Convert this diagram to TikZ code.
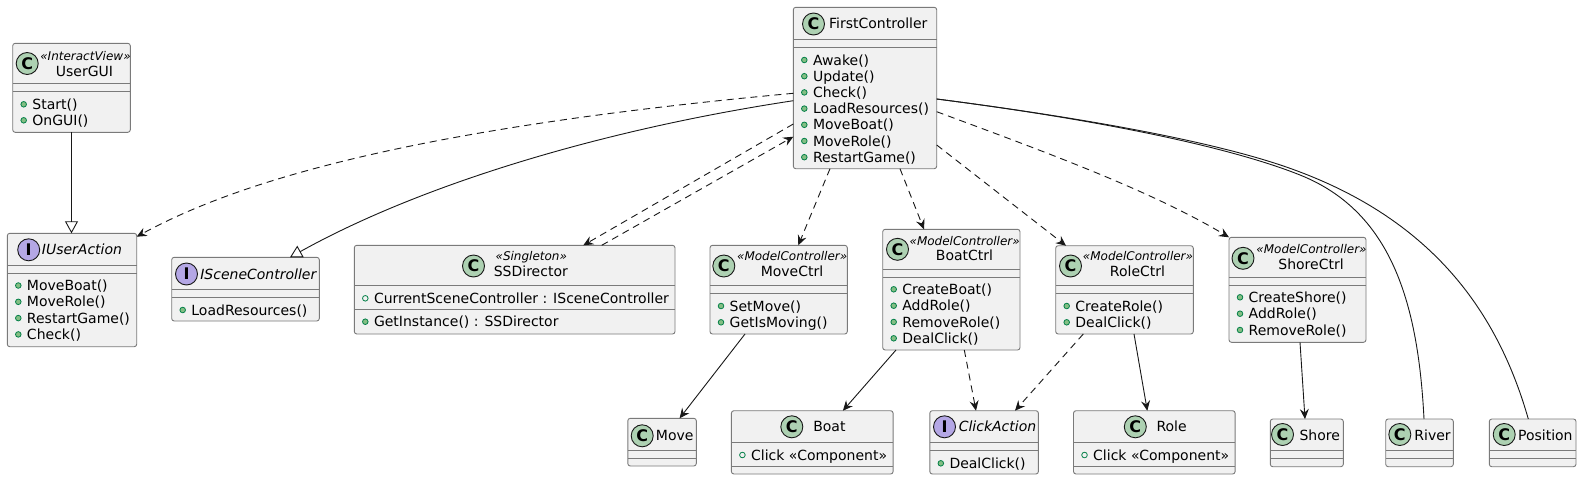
\documentclass[tikz,border=0pt]{standalone}
\usepackage{fontspec}
\setmainfont{DejaVu Sans}
\usetikzlibrary{arrows.meta}
\definecolor{boxfill}{HTML}{F1F1F1}
\definecolor{boxline}{HTML}{7A7A7A}
\definecolor{cgreen}{HTML}{ADD1B2}
\definecolor{ipurple}{HTML}{B4A7E5}
\definecolor{mfill}{HTML}{84BE84}
\definecolor{mline}{HTML}{038048}
\definecolor{ink}{HTML}{181818}
\tikzset{
  cls/.style={draw=boxline, line width=0.9pt, fill=boxfill, rounded corners=2.5pt, rectangle, inner sep=0pt, outer sep=0pt, anchor=north west},
  sepl/.style={draw=boxline, line width=0.9pt},
  icn/.style={circle, draw=ink, line width=0.9pt, minimum size=22pt, inner sep=0pt, font=\fontsize{16}{16}\selectfont\bfseries},
  iconC/.style={icn, fill=cgreen},
  iconI/.style={icn, fill=ipurple},
  nm/.style={inner sep=0pt, anchor=base, font=\fontsize{14}{16}\selectfont},
  inm/.style={inner sep=0pt, anchor=base, font=\fontsize{14}{16}\selectfont\itshape},
  st/.style={inner sep=0pt, anchor=base, font=\fontsize{12}{14}\selectfont\itshape},
  mt/.style={inner sep=0pt, anchor=base west, font=\fontsize{14}{16}\selectfont},
  pubm/.style={draw=mline, fill=mfill, line width=0.8pt},
  pubf/.style={draw=mline, line width=0.8pt},
  rel/.style={draw=ink, line width=0.9pt},
  dep/.style={rel, dash pattern=on 7pt off 5pt, -{Stealth[length=10pt,width=9pt,inset=3.5pt]}},
  asc/.style={rel, -{Stealth[length=10pt,width=9pt,inset=3.5pt]}},
  real/.style={rel, -{Triangle[open,length=12pt,width=13pt]}},
  plain/.style={rel}
}
% name, left, top, right, bottom, sep1, sep2
\newcommand\cbox[7]{%
  \node[cls, minimum width={(#4-#2)*1pt}, minimum height={(#5-#3)*1pt}] (#1) at (#2,#3) {};
  \draw[sepl] (#2,#6) -- (#4,#6);
  \draw[sepl] (#2,#7) -- (#4,#7);
}
% name, style, left, y, text
\newcommand\mrow[5]{%
  \draw[#2] (#3+11,#4) circle (2.8);
  \node[mt] (#1) at (#3+19.5,#4+5) {#5};
}
\begin{document}
\begin{tikzpicture}[x=1pt,y=-1pt]
\path[use as bounding box, fill=white] (0,0) rectangle (1582,480);

% UserGUI
\cbox{ug}{12.7}{43.3}{130.3}{132.3}{83.3}{91.3}
\node[iconC] (ug-i) at (27.2,63.5) {C};
\node[st] (ug-s) at (85.5,60) {«InteractView»};
\node[nm] (ug-n) at (84.5,76) {UserGUI};
\mrow{ug-1}{pubm}{12.7}{104.3}{Start()}
\mrow{ug-2}{pubm}{12.7}{120.3}{OnGUI()}

% IUserAction
\cbox{ua}{7.3}{233.3}{136.7}{346.7}{265.3}{273.3}
\node[iconI] (ua-i) at (28.7,249.8) {I};
\node[inm] (ua-n) at (82,254.5) {IUserAction};
\mrow{ua-1}{pubm}{7.3}{285.5}{MoveBoat()}
\mrow{ua-2}{pubm}{7.3}{301.8}{MoveRole()}
\mrow{ua-3}{pubm}{7.3}{318.1}{RestartGame()}
\mrow{ua-4}{pubm}{7.3}{334.4}{Check()}

% ISceneController
\cbox{isc}{171.7}{257.3}{319.3}{321}{289.3}{297.3}
\node[iconI] (isc-i) at (186.5,274) {I};
\node[inm] (isc-n) at (258.3,279) {ISceneController};
\mrow{isc-1}{pubm}{171.7}{310}{LoadResources()}

% SSDirector
\cbox{ssd}{354.3}{245.3}{675}{334}{285}{309.3}
\node[iconC] (ssd-i) at (473.5,266) {C};
\node[st] (ssd-s) at (531.3,260.7) {«Singleton»};
\node[nm] (ssd-n) at (530.8,276.7) {SSDirector};
\mrow{ssd-1}{pubf}{354.3}{298.3}{CurrentSceneController : ISceneController}
\mrow{ssd-2}{pubm}{354.3}{321.7}{GetInstance() : SSDirector}

% MoveCtrl
\cbox{mc}{710}{245.3}{847.3}{334}{285.7}{293.3}
\node[iconC] (mc-i) at (723.8,266) {C};
\node[st] (mc-s) at (792.2,260.7) {«ModelController»};
\node[nm] (mc-n) at (792,276.7) {MoveCtrl};
\mrow{mc-1}{pubm}{710}{306}{SetMove()}
\mrow{mc-2}{pubm}{710}{322.3}{GetIsMoving()}

% FirstController
\cbox{fc}{793.3}{7.3}{936.7}{168.7}{39.3}{47.3}
\node[iconC] (fc-i) at (813.5,24) {C};
\node[nm] (fc-n) at (878.3,28) {FirstController};
\mrow{fc-1}{pubm}{793.3}{60}{Awake()}
\mrow{fc-2}{pubm}{793.3}{76.2}{Update()}
\mrow{fc-3}{pubm}{793.3}{92.4}{Check()}
\mrow{fc-4}{pubm}{793.3}{108.6}{LoadResources()}
\mrow{fc-5}{pubm}{793.3}{124.8}{MoveBoat()}
\mrow{fc-6}{pubm}{793.3}{141}{MoveRole()}
\mrow{fc-7}{pubm}{793.3}{157.2}{RestartGame()}

% BoatCtrl
\cbox{bc}{882.7}{229.3}{1020}{350}{269.3}{277.3}
\node[iconC] (bc-i) at (897.5,249.3) {C};
\node[st] (bc-s) at (964.7,245) {«ModelController»};
\node[nm] (bc-n) at (964.5,260.7) {BoatCtrl};
\mrow{bc-1}{pubm}{882.7}{289.3}{CreateBoat()}
\mrow{bc-2}{pubm}{882.7}{305.7}{AddRole()}
\mrow{bc-3}{pubm}{882.7}{322}{RemoveRole()}
\mrow{bc-4}{pubm}{882.7}{338.3}{DealClick()}

% RoleCtrl
\cbox{rc}{1055.7}{245.7}{1193.3}{334}{285.3}{293.3}
\node[iconC] (rc-i) at (1070.5,266) {C};
\node[st] (rc-s) at (1138,260.7) {«ModelController»};
\node[nm] (rc-n) at (1137.5,276.7) {RoleCtrl};
\mrow{rc-1}{pubm}{1055.7}{306}{CreateRole()}
\mrow{rc-2}{pubm}{1055.7}{322.3}{DealClick()}

% ShoreCtrl
\cbox{sc}{1229}{237.3}{1366}{342.3}{277.3}{285.3}
\node[iconC] (sc-i) at (1243,258.3) {C};
\node[st] (sc-s) at (1311.5,253.3) {«ModelController»};
\node[nm] (sc-n) at (1311,269.3) {ShoreCtrl};
\mrow{sc-1}{pubm}{1229}{297.3}{CreateShore()}
\mrow{sc-2}{pubm}{1229}{313.7}{AddRole()}
\mrow{sc-3}{pubm}{1229}{330}{RemoveRole()}

% Shore, River, Position
\cbox{sh}{1270.3}{419}{1343.3}{466.7}{450}{458.3}
\node[iconC] (sh-i) at (1282.5,434.5) {C};
\node[nm] (sh-n) at (1319.7,440.7) {Shore};
\cbox{rv}{1385.7}{419}{1453.3}{466.7}{450}{458.3}
\node[iconC] (rv-i) at (1399.8,434.5) {C};
\node[nm] (rv-n) at (1432.5,440.7) {River};
\cbox{ps}{1489.3}{419}{1576}{466.7}{450}{458.3}
\node[iconC] (ps-i) at (1504.2,434.5) {C};
\node[nm] (ps-n) at (1545.3,440.7) {Position};

% Move
\cbox{mv}{627.8}{418.3}{696.3}{466}{450.7}{458.3}
\node[iconC] (mv-i) at (642.2,435.8) {C};
\node[nm] (mv-n) at (674.7,440.7) {Move};

% Boat
\cbox{bt}{731.4}{410.7}{893.1}{474}{442.3}{466.7}
\node[iconC] (bt-i) at (791.8,426.8) {C};
\node[nm] (bt-n) at (829.4,431.5) {Boat};
\mrow{bt-1}{pubf}{731.4}{455}{Click «Component»}

% ClickAction
\cbox{ca}{929.8}{410.7}{1038.4}{474}{442.3}{450.7}
\node[iconI] (ca-i) at (944.5,426.8) {I};
\node[inm] (ca-n) at (997.5,431.5) {ClickAction};
\mrow{ca-1}{pubm}{929.8}{463.3}{DealClick()}

% Role
\cbox{ro}{1073.5}{410.7}{1235.1}{474}{442.3}{466.7}
\node[iconC] (ro-i) at (1135.3,426.8) {C};
\node[nm] (ro-n) at (1171.6,431.5) {Role};
\mrow{ro-1}{pubf}{1073.5}{455}{Click «Component»}

% connectors
\draw[real] (ug.south) -- (ug.south |- ua.north);
\draw[dep] ([shift={(0,86)}]fc.north west) .. controls (450,125) and (255,172) .. ([shift={(0,3.4)}]ua.north east);
\draw[real] ([shift={(0,93.4)}]fc.north west) .. controls (600,130) and (420,185) .. ([shift={(118.3,0)}]isc.north west);
\draw[dep] ([shift={(0,116.7)}]fc.north west) -- ([shift={(229,0)}]ssd.north west);
\draw[dep] ([shift={(247.4,0)}]ssd.north west) -- ([shift={(0,129.4)}]fc.north west);
\draw[dep] ([shift={(36.7,0)}]fc.south west) -- ([shift={(88.3,0)}]mc.north west);
\draw[dep] ([shift={(106.7,0)}]fc.south west) -- ([shift={(41.3,0)}]bc.north west);
\draw[dep] ([shift={(0,137.7)}]fc.north east) -- ([shift={(10.3,0)}]rc.north west);
\draw[dep] ([shift={(0,104.4)}]fc.north east) .. controls (1040,150) and (1150,190) .. ([shift={(0,0)}]sc.north west);
\draw[plain] ([shift={(0,91.7)}]fc.north east) .. controls (1100,120) and (1230,147) .. (1300,175) .. controls (1390,211) and (1418,300) .. ([shift={(38.3,0)}]rv.north west);
\draw[plain] ([shift={(0,91.7)}]fc.north east) .. controls (1100,120) and (1230,145) .. (1300,172) .. controls (1440,225) and (1500,320) .. ([shift={(39,0)}]ps.north west);
\draw[asc] ([shift={(35,0)}]mc.south west) -- ([shift={(51.8,0)}]mv.north west);
\draw[asc] ([shift={(13.3,0)}]bc.south west) -- ([shift={(111.5,0)}]bt.north west);
\draw[dep] ([shift={(81.6,0)}]bc.south west) -- ([shift={(46.2,0)}]ca.north west);
\draw[dep] ([shift={(27.6,0)}]rc.south west) -- ([shift={(85.2,0)}]ca.north west);
\draw[asc] ([shift={(78.3,0)}]rc.south west) -- ([shift={(73.8,0)}]ro.north west);
\draw[asc] ([shift={(71,0)}]sc.south west) -- ([shift={(34.7,0)}]sh.north west);
\end{tikzpicture}
\end{document}
